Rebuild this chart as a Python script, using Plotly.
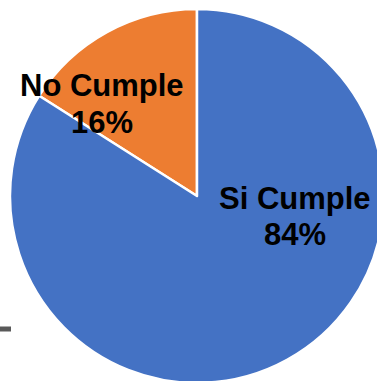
import plotly.graph_objects as go

labels = ["No Cumple", "Si Cumple"]
values = [16, 84]
colors = ["#ED7D31", "#4472C4"]

W, H = 390, 390
L, T, S = 10, 9, 374

total = sum(values)
pcts = [f"{round(v * 100 / total)}%" for v in values]

fig = go.Figure(go.Pie(
    labels=labels, values=values, sort=False, direction="clockwise",
    rotation=-360 * values[0] / total,
    marker=dict(colors=colors, line=dict(color="white", width=2.5)),
    textinfo="none", hoverinfo="label+percent", showlegend=False,
))

def px(x, y):
    return (x - L) / S, 1 - (y - T) / S

# (center x, line-1 center y, line-2 center y) in pixels
pos = [(102, 86, 122), (295, 198, 234)]
font = dict(family="Liberation Sans, Arial", size=31, color="black")
for lab, pct, (cx, y1, y2) in zip(labels, pcts, pos):
    for t, yy in ((lab, y1), (pct, y2)):
        ax, ay = px(cx, yy)
        fig.add_annotation(x=ax, y=ay, xref="paper", yref="paper", text=f"<b>{t}</b>",
                           showarrow=False, font=font, xanchor="center", yanchor="middle")

x0, y0 = px(0, 329)
x1, _ = px(11, 329)
fig.add_shape(type="line", xref="paper", yref="paper", x0=x0, x1=x1, y0=y0, y1=y0,
              line=dict(color="#595959", width=5))

fig.update_layout(width=W, height=H, margin=dict(l=L, t=T, r=W - L - S, b=H - T - S),
                  paper_bgcolor="white", plot_bgcolor="white")
fig.write_html("out.html")
